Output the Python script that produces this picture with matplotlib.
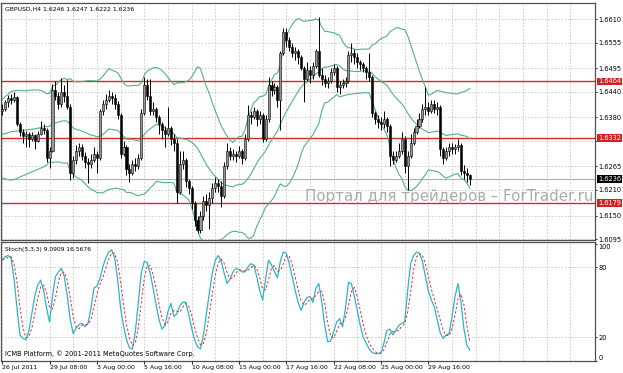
import numpy as np
import pandas as pd
import matplotlib
matplotlib.use('Agg')
import matplotlib.pyplot as plt
import matplotlib.transforms as mtransforms
from matplotlib import font_manager

# GBPUSD H4 candles, one value per bar (open of a bar = close of the previous one)
first_open = 1.6395
closes = [
    1.6400, 1.6415, 1.6425, 1.6420, 1.6428, 1.6365, 1.6345, 1.6335, 1.6340, 1.6330,
    1.6338, 1.6325, 1.6340, 1.6355, 1.6350, 1.6285, 1.6300, 1.6445, 1.6430, 1.6410,
    1.6440, 1.6430, 1.6405, 1.6250, 1.6280, 1.6300, 1.6310, 1.6290, 1.6275, 1.6270,
    1.6280, 1.6295, 1.6285, 1.6395, 1.6410, 1.6420, 1.6430, 1.6425, 1.6410, 1.6385,
    1.6295, 1.6310, 1.6260, 1.6250, 1.6270, 1.6265, 1.6285, 1.6390, 1.6455, 1.6430,
    1.6395, 1.6400, 1.6380, 1.6365, 1.6350, 1.6340, 1.6355, 1.6330, 1.6320, 1.6205,
    1.6270, 1.6280, 1.6230, 1.6215, 1.6180, 1.6140, 1.6115, 1.6150, 1.6185, 1.6175,
    1.6190, 1.6215, 1.6225, 1.6220, 1.6195, 1.6265, 1.6300, 1.6290, 1.6295, 1.6290,
    1.6300, 1.6285, 1.6330, 1.6385, 1.6380, 1.6395, 1.6375, 1.6385, 1.6330, 1.6375,
    1.6455, 1.6445, 1.6450, 1.6420, 1.6530, 1.6580, 1.6560, 1.6545, 1.6530, 1.6535,
    1.6520, 1.6495, 1.6470, 1.6490, 1.6480, 1.6500, 1.6535, 1.6480, 1.6470, 1.6460,
    1.6465, 1.6485, 1.6495, 1.6450, 1.6455, 1.6460, 1.6465, 1.6525, 1.6530, 1.6520,
    1.6510, 1.6505, 1.6495, 1.6485, 1.6475, 1.6390, 1.6375, 1.6370, 1.6365, 1.6375,
    1.6360, 1.6290, 1.6280, 1.6290, 1.6300, 1.6330, 1.6265, 1.6290, 1.6320, 1.6345,
    1.6360, 1.6375, 1.6400, 1.6405, 1.6395, 1.6410, 1.6400, 1.6405, 1.6305, 1.6285,
    1.6300, 1.6310, 1.6305, 1.6310, 1.6315, 1.6255, 1.6250, 1.6246, 1.6236,
]
highs = [
    1.6410, 1.6420, 1.6432, 1.6435, 1.6438, 1.6430, 1.6370, 1.6352, 1.6348, 1.6345,
    1.6345, 1.6342, 1.6348, 1.6372, 1.6365, 1.6355, 1.6310, 1.6458, 1.6465, 1.6440,
    1.6472, 1.6455, 1.6468, 1.6410, 1.6290, 1.6315, 1.6320, 1.6318, 1.6298, 1.6285,
    1.6295, 1.6310, 1.6300, 1.6400, 1.6420, 1.6435, 1.6445, 1.6440, 1.6435, 1.6418,
    1.6390, 1.6325, 1.6315, 1.6270, 1.6280, 1.6285, 1.6295, 1.6400, 1.6475, 1.6470,
    1.6470, 1.6415, 1.6405, 1.6385, 1.6370, 1.6360, 1.6405, 1.6360, 1.6340, 1.6330,
    1.6300, 1.6300, 1.6285, 1.6235, 1.6220, 1.6185, 1.6150, 1.6160, 1.6195, 1.6200,
    1.6205, 1.6225, 1.6240, 1.6235, 1.6230, 1.6275, 1.6320, 1.6310, 1.6305, 1.6300,
    1.6312, 1.6305, 1.6340, 1.6408, 1.6395, 1.6405, 1.6400, 1.6395, 1.6390, 1.6385,
    1.6475, 1.6465, 1.6460, 1.6455, 1.6535, 1.6590, 1.6588, 1.6568, 1.6555, 1.6545,
    1.6540, 1.6525, 1.6500, 1.6510, 1.6500, 1.6510, 1.6540, 1.6615, 1.6495, 1.6480,
    1.6475, 1.6495, 1.6505, 1.6500, 1.6465, 1.6470, 1.6475, 1.6535, 1.6555, 1.6540,
    1.6530, 1.6515, 1.6510, 1.6500, 1.6530, 1.6478, 1.6395, 1.6385, 1.6380, 1.6395,
    1.6380, 1.6365, 1.6300, 1.6300, 1.6320, 1.6345, 1.6335, 1.6300, 1.6340, 1.6355,
    1.6375, 1.6390, 1.6410, 1.6450, 1.6415, 1.6420, 1.6420, 1.6415, 1.6408, 1.6310,
    1.6310, 1.6320, 1.6320, 1.6318, 1.6330, 1.6320, 1.6268, 1.6262, 1.6247,
]
lows = [
    1.6385, 1.6395, 1.6405, 1.6410, 1.6415, 1.6360, 1.6335, 1.6320, 1.6310, 1.6310,
    1.6325, 1.6305, 1.6322, 1.6338, 1.6340, 1.6275, 1.6262, 1.6298, 1.6420, 1.6400,
    1.6405, 1.6415, 1.6400, 1.6233, 1.6238, 1.6270, 1.6290, 1.6280, 1.6262, 1.6226,
    1.6262, 1.6275, 1.6250, 1.6280, 1.6385, 1.6400, 1.6415, 1.6410, 1.6400, 1.6375,
    1.6285, 1.6290, 1.6245, 1.6229, 1.6245, 1.6255, 1.6260, 1.6280, 1.6385, 1.6420,
    1.6385, 1.6385, 1.6370, 1.6340, 1.6330, 1.6310, 1.6335, 1.6315, 1.6300, 1.6179,
    1.6200, 1.6260, 1.6217, 1.6200, 1.6165, 1.6125, 1.6108, 1.6110, 1.6140, 1.6160,
    1.6118, 1.6180, 1.6205, 1.6205, 1.6170, 1.6190, 1.6260, 1.6280, 1.6280, 1.6275,
    1.6285, 1.6270, 1.6280, 1.6325, 1.6365, 1.6375, 1.6360, 1.6365, 1.6322, 1.6325,
    1.6370, 1.6430, 1.6435, 1.6405, 1.6350, 1.6525, 1.6545, 1.6535, 1.6520, 1.6515,
    1.6505, 1.6490, 1.6415, 1.6465, 1.6460, 1.6470, 1.6495, 1.6475, 1.6455, 1.6450,
    1.6448, 1.6460, 1.6480, 1.6440, 1.6435, 1.6448, 1.6450, 1.6460, 1.6510, 1.6505,
    1.6495, 1.6490, 1.6485, 1.6470, 1.6465, 1.6380, 1.6365, 1.6355, 1.6350, 1.6355,
    1.6345, 1.6265, 1.6270, 1.6275, 1.6285, 1.6295, 1.6250, 1.6210, 1.6285, 1.6315,
    1.6340, 1.6355, 1.6370, 1.6385, 1.6385, 1.6390, 1.6390, 1.6385, 1.6290, 1.6270,
    1.6280, 1.6290, 1.6295, 1.6295, 1.6300, 1.6245, 1.6235, 1.6228, 1.6222,
]

# Bollinger band values on the first bars (their 20-bar history is off the chart)
early_upper = [1.6422, 1.6428, 1.6434, 1.6440, 1.6442, 1.6443, 1.6443, 1.6442, 1.6442, 1.6443,
               1.6444, 1.6444, 1.6444, 1.6443, 1.6440, 1.6435, 1.6436, 1.6453, 1.6455]
early_mid = [1.6340, 1.6342, 1.6344, 1.6346, 1.6347, 1.6348, 1.6349, 1.6350, 1.6350, 1.6351,
             1.6352, 1.6353, 1.6354, 1.6356, 1.6358, 1.6358, 1.6359, 1.6364, 1.6367]
early_lower = [1.6238, 1.6236, 1.6234, 1.6233, 1.6234, 1.6237, 1.6240, 1.6243, 1.6246, 1.6249,
               1.6252, 1.6255, 1.6258, 1.6261, 1.6264, 1.6268, 1.6276, 1.6274, 1.6275]

# Stochastic %K (5,3,3)
stoch_k = [
    86, 89, 90, 88, 70, 45, 22, 19, 18, 25, 40, 55, 65, 69, 60, 45, 33, 55, 72, 76,
    79, 72, 55, 35, 23, 28, 31, 32, 29, 32, 45, 62, 64, 70, 80, 88, 93, 95, 88, 70,
    45, 30, 18, 11, 10, 25, 50, 75, 85, 84, 75, 62, 48, 35, 27, 30, 42, 49, 38, 40,
    47, 50, 50, 40, 28, 18, 12, 10, 22, 40, 58, 75, 86, 90, 85, 75, 66, 70, 76, 79,
    78, 76, 76, 80, 83, 82, 72, 60, 52, 70, 86, 82, 76, 71, 85, 93, 92, 83, 72, 60,
    50, 43, 50, 54, 55, 50, 62, 66, 50, 30, 16, 17, 25, 33, 36, 29, 45, 67, 66, 55,
    43, 30, 20, 15, 10, 7, 6, 6, 7, 15, 26, 27, 22, 26, 30, 32, 33, 60, 83, 90,
    93, 92, 85, 72, 60, 52, 46, 35, 24, 19, 22, 23, 38, 55, 66, 50, 27.6, 13, 9.0909,
]

price_ticks = [1.6610, 1.6555, 1.6495, 1.6440, 1.6380, 1.6325, 1.6265, 1.6210, 1.6150, 1.6095]
hidden_tick = 1.6325  # its label sits under the 1.6332 marker
level_prices = [1.6464, 1.6332, 1.6179]
last_price = 1.6236
date_ticks = [0, 16, 32, 48, 64, 80, 96, 112, 128, 144]
date_labels = ['26 Jul 2011', '29 Jul 08:00', '3 Aug 00:00', '5 Aug 16:00', '10 Aug 08:00',
               '15 Aug 00:00', '17 Aug 16:00', '22 Aug 08:00', '25 Aug 00:00', '29 Aug 16:00']

names = {f.name for f in font_manager.fontManager.ttflist}
ui_font = 'Liberation Sans Narrow' if 'Liberation Sans Narrow' in names else 'DejaVu Sans'
plt.rcParams['font.family'] = [ui_font, 'DejaVu Sans']
fs = 6.0 if ui_font != 'DejaVu Sans' else 4.8

n = len(closes)
idx = np.arange(n)
c = np.array(closes)
o = np.concatenate([[first_open], c[:-1]])
h = np.array(highs)
l = np.array(lows)

s = pd.Series(c)
mid = s.rolling(20).mean().to_numpy()
sd = s.rolling(20).std(ddof=0).to_numpy()
upper = mid + 2 * sd
lower = mid - 2 * sd
k = len(early_mid)
mid[:k] = early_mid
upper[:k] = early_upper
lower[:k] = early_lower

k_line = pd.Series(stoch_k)
d_line = k_line.rolling(3, min_periods=1).mean()

W, H = 623, 373
def px_rect(x0, y0, x1, y1):
    return [x0 / W, 1 - y1 / H, (x1 - x0) / W, (y1 - y0) / H]

fig = plt.figure(figsize=(W / 100, H / 100), dpi=100)
ax = fig.add_axes(px_rect(1, 3, 595, 240))
ax2 = fig.add_axes(px_rect(1, 242, 595, 361), sharex=ax)

grid_kw = dict(color='#c4c4c4', lw=0.6, ls=(0, (2, 2)), zorder=0)
for g in range(0, 200, 8):
    ax.axvline(g, **grid_kw)
    ax2.axvline(g, **grid_kw)
for p in price_ticks:
    ax.axhline(p, **grid_kw)
for lv in (20, 80):
    ax2.axhline(lv, **grid_kw)

for lv in level_prices:
    ax.axhline(lv, color='#d42a2a', lw=1.0, zorder=1)
ax.axhline(last_price, color='#b0b0b0', lw=0.8, zorder=1)

band_color = '#55b08a'
for band in (upper, mid, lower):
    ax.plot(idx, band, color=band_color, lw=0.8, zorder=2)

# candles
ax.vlines(idx, l, h, color='black', lw=0.7, zorder=3)
bull = c >= o
ax.bar(idx, np.abs(c - o), bottom=np.minimum(o, c), width=0.7,
       color=np.where(bull, '#959595', 'black'), edgecolor='black', linewidth=0.4, zorder=4)

# stochastic
ax2.plot(idx, k_line, color='#2bb5c8', lw=0.9, zorder=3)
ax2.plot(idx, d_line, color='#e03030', lw=0.7, ls=(0, (2.5, 2)), zorder=3)

ax.set_xlim(-0.4, 200.3)
ax.set_ylim(1.60927, 1.66475)
ax2.set_ylim(-0.3, 101.6)

for a in (ax, ax2):
    for sp in a.spines.values():
        sp.set_color('#505050')
        sp.set_linewidth(0.9)
    a.yaxis.tick_right()

ax.set_yticks(price_ticks, labels=['' if p == hidden_tick else f'{p:.4f}' for p in price_ticks])
ax.tick_params(axis='y', length=1.5, pad=1.2, labelsize=fs, colors='black', width=0.6)
ax.tick_params(axis='x', bottom=False, labelbottom=False)
ax2.set_yticks([0, 20, 80, 100], labels=['0', '20', '80', '100'])
ax2.tick_params(axis='y', length=1.5, pad=1.2, labelsize=fs, width=0.6)
for lab in ax2.get_yticklabels():
    if lab.get_text() == '100':
        lab.set_verticalalignment('top')
    elif lab.get_text() == '0':
        lab.set_verticalalignment('bottom')
ax2.set_xticks(date_ticks, labels=date_labels, ha='left')
ax2.tick_params(axis='x', length=2.2, pad=0.6, labelsize=fs - 0.3, width=0.6)

trans = mtransforms.blended_transform_factory(ax.transAxes, ax.transData)
for lv in level_prices:
    ax.text(1.005, lv, f'{lv:.4f}', transform=trans, ha='left', va='center', fontsize=fs,
            color='white', clip_on=False, zorder=10,
            bbox=dict(boxstyle='square,pad=0.12', fc='#d42020', ec='none'))
ax.text(1.005, last_price, f'{last_price:.4f}', transform=trans, ha='left', va='center',
        fontsize=fs, color='white', clip_on=False, zorder=10,
        bbox=dict(boxstyle='square,pad=0.12', fc='black', ec='none'))

ax.text(0.007, 0.983, 'GBPUSD,H4 1.6246 1.6247 1.6222 1.6236', transform=ax.transAxes,
        ha='left', va='top', fontsize=fs - 0.4, zorder=10)
ax2.text(0.007, 0.96, 'Stoch(5,3,3) 9.0909 16.5676', transform=ax2.transAxes,
         ha='left', va='top', fontsize=fs - 0.5, zorder=10)
ax2.text(0.007, 0.03, 'ICMB Platform, \u00a9 2001-2011 MetaQuotes Software Corp.',
         transform=ax2.transAxes, ha='left', va='bottom', fontsize=fs, zorder=10)

ax.text(305 / W, 1 - 201 / H, 'Портал для трейдеров \u2013 ForTrader.ru', transform=fig.transFigure,
        ha='left', va='baseline', fontsize=10.8, color='#a2a2a2', alpha=0.9,
        family='DejaVu Sans', clip_on=False, zorder=5)

fig.savefig('out.png', dpi=100)
